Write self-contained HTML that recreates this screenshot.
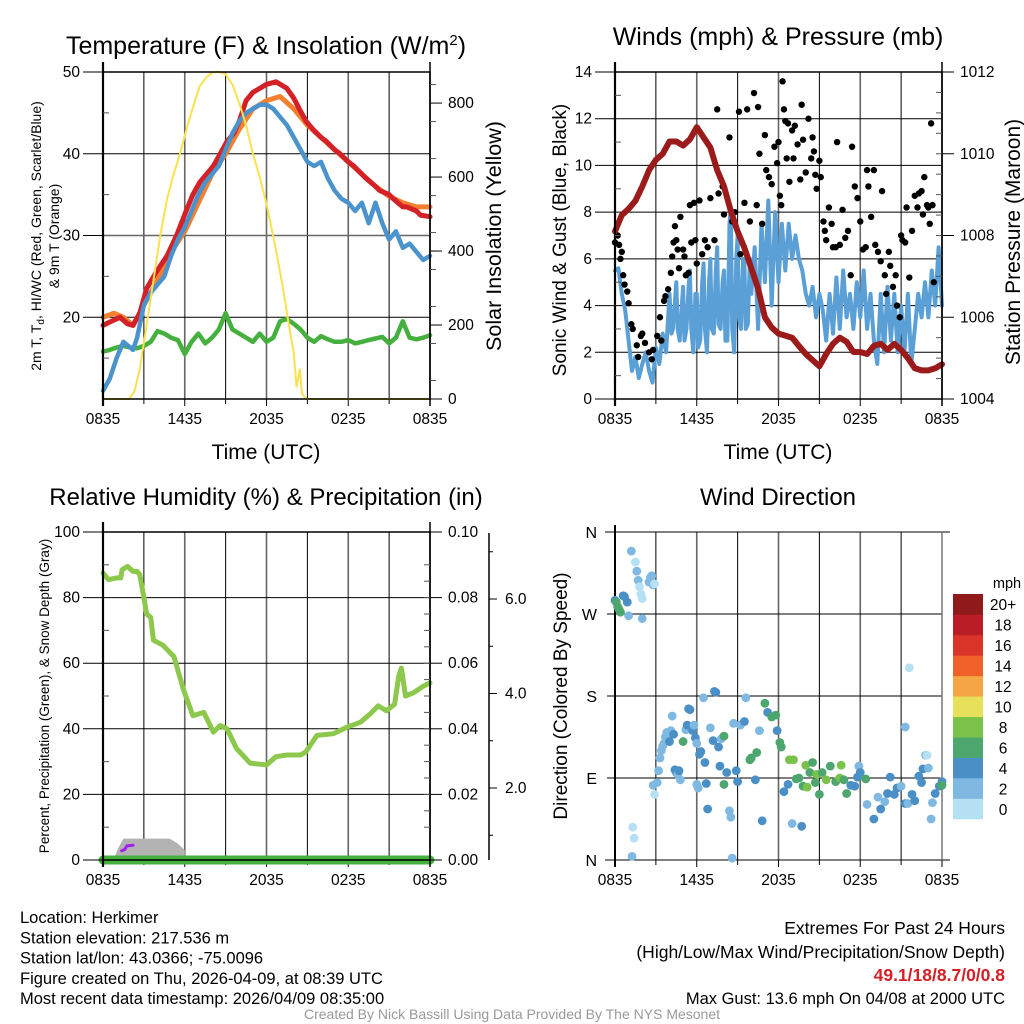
<!DOCTYPE html>
<html><head><meta charset="utf-8"><style>
html,body{margin:0;padding:0;background:#fff;width:1024px;height:1024px;overflow:hidden}
svg{display:block;font-family:"Liberation Sans",sans-serif}
</style></head><body>
<svg id="c" width="1024" height="1024" viewBox="0 0 1024 1024" xmlns="http://www.w3.org/2000/svg"></svg>
<script>
// ---- data ----
const tickHours=[0,6,12,18,24];
const tickLabels=["0835","1435","2035","0235","0835"];
const tempRed=[[0,19],[0.6,19.5],[1.25,20],[1.8,19.2],[2.2,19],[2.7,20.5],[3.2,23.5],[3.9,25.5],[4.7,27.5],[5.4,30],[6.1,33],[6.6,35],[7.1,36.5],[7.6,37.5],[8.1,38.5],[8.6,40],[9.1,41.5],[9.6,42.5],[10,44],[10.5,46.5],[11,47.5],[11.5,48],[12,48.5],[12.7,48.8],[13.5,48],[14,46.8],[14.4,45.5],[14.9,44],[15.4,43],[16,42],[16.4,41.5],[17,40.5],[17.4,40],[18,39],[18.4,38.5],[19,37.5],[19.3,37],[20,36],[20.3,35.5],[21,35],[21.3,34.5],[22,33.5],[22.3,33.5],[23,33],[23.3,32.5],[24,32.3]];
const tempOrange=[[0,20],[0.8,20.5],[1.5,20],[2.2,19],[3,21.5],[4,24.5],[5,28],[6,30.5],[7,34],[8,37.5],[9,40],[10,43],[11,45.5],[12,46.5],[13,47],[14,45.5],[15,43.5],[16,42],[17,40.5],[18,39],[19,37.5],[20,36],[21,34.8],[22,34],[23,33.5],[24,33.5]];
const tempBlue=[[0,11],[0.5,12.5],[1,15],[1.5,17],[2.2,16],[2.5,17.5],[3,21.5],[3.5,23],[4,24],[4.5,25],[5,27.5],[5.5,29.5],[6,31],[6.5,33],[7,35],[7.5,36.5],[8,37.5],[8.5,38.5],[9,40.5],[9.5,42.5],[10,44],[10.5,45],[11,45.5],[11.5,46],[12,46],[12.5,45.5],[13,44.5],[13.5,43.5],[14,42],[14.5,40.5],[15,39],[15.5,38.5],[16,39],[16.5,37],[17,35.5],[17.5,34.5],[18,34],[18.5,33],[19,34],[19.5,31.5],[20,34],[20.5,31.5],[21,29.5],[21.5,30.5],[22,28.5],[22.5,29],[23,28],[23.5,27],[24,27.5]];
const dewGreen=[[0,15.8],[0.5,16],[1,16.3],[1.5,16.5],[2,16.3],[2.5,16.2],[3,16.5],[3.5,17],[4,18.3],[4.5,18],[5,17.5],[5.5,17.2],[6,15.5],[6.5,17],[7,18],[7.5,16.8],[8,17.5],[8.5,18.5],[9,20.5],[9.5,18.5],[10,18],[10.5,17.5],[11,17],[11.5,18],[12,17],[12.5,17.5],[13,19.5],[13.5,19.8],[14,19.2],[14.5,18.5],[15,17.5],[15.5,17],[16,17.7],[16.5,17.3],[17,17],[17.5,17],[18,17.2],[18.5,16.8],[19,17],[19.5,17.2],[20,17.4],[20.5,17.6],[21,16.8],[21.5,17.5],[22,19.5],[22.5,17.5],[23,17.3],[23.5,17.5],[24,17.8]];
const insolation=[[0,0],[1.9,0],[2.3,20],[2.7,80],[3.2,200],[3.7,320],[4.2,440],[4.7,540],[5.2,610],[5.65,663],[6.2,740],[6.7,800],[7.1,846],[7.6,870],[8,882],[8.46,885],[9,878],[9.5,850],[10,800],[10.5,740],[11,663],[11.5,600],[12,528],[12.6,420],[13.2,303],[13.6,210],[14,123],[14.2,33],[14.45,80],[14.6,15],[14.9,0],[24,0]];
const pressure=[[0,1008.1],[0.5,1008.5],[1,1008.65],[1.5,1008.85],[2,1009.2],[2.5,1009.6],[3,1009.85],[3.5,1010.0],[4,1010.3],[4.5,1010.3],[5,1010.2],[5.5,1010.35],[6,1010.65],[6.5,1010.4],[7,1010.15],[7.5,1009.6],[8,1009.2],[8.5,1008.6],[9,1008.1],[9.5,1007.7],[10,1007.2],[10.5,1006.7],[11,1006.0],[11.5,1005.75],[12,1005.6],[12.5,1005.55],[13,1005.5],[13.5,1005.3],[14,1005.1],[14.5,1004.95],[15,1004.8],[15.5,1005.1],[16,1005.35],[16.5,1005.5],[17,1005.4],[17.5,1005.15],[18,1005.15],[18.5,1005.1],[19,1005.3],[19.5,1005.35],[20,1005.2],[20.5,1005.35],[21,1005.2],[21.5,1005.0],[22,1004.75],[22.5,1004.7],[23,1004.7],[23.5,1004.75],[24,1004.85]];
const windSpeed=[[0,5.5],[0.25,5.6],[0.5,4.5],[0.75,3.8],[1,2.5],[1.25,1.2],[1.5,1.8],[1.75,0.9],[2,1.5],[2.25,2],[2.5,1.2],[2.75,0.7],[3,2.2],[3.25,1.5],[3.5,2.8],[3.75,2],[4,4.5],[4.15,2.8],[4.25,3],[4.4,4.2],[4.5,5],[4.6,3],[4.75,2.5],[4.9,4],[5,4.8],[5.1,2.5],[5.25,3],[5.4,4.8],[5.5,5.5],[5.6,3],[5.75,2],[5.9,4.5],[6,4.5],[6.1,2.2],[6.25,2.5],[6.4,5],[6.5,5.8],[6.6,3],[6.75,2],[6.9,5],[7,6],[7.1,3],[7.25,2.8],[7.4,5.5],[7.5,6.5],[7.6,3.2],[7.75,3],[7.9,5],[8,5.5],[8.1,2.5],[8.25,2.5],[8.4,7.5],[8.5,8.2],[8.6,3],[8.75,2],[8.9,6],[9,7],[9.1,3.5],[9.25,3],[9.4,6],[9.5,5.8],[9.6,3],[9.75,3.2],[9.9,6],[10,4.5],[10.25,6.5],[10.5,3],[10.75,7.5],[11,5],[11.25,8.5],[11.5,4],[11.75,8],[12,5],[12.25,7.5],[12.5,5.5],[12.75,7.5],[13,6],[13.25,7],[13.5,6],[13.75,5.5],[14,4.5],[14.25,4],[14.5,4.8],[14.75,3.5],[15,4.5],[15.25,3.8],[15.5,2.5],[15.75,4.5],[16,2.8],[16.25,5.2],[16.5,3],[16.75,5.5],[17,3.5],[17.25,4.5],[17.5,3],[17.75,5],[18,3.5],[18.25,5.5],[18.5,3],[18.75,4.5],[19,2.5],[19.25,1.5],[19.5,4.5],[19.75,2],[20,4.8],[20.25,2.5],[20.5,4.5],[20.75,2],[21,4],[21.25,2],[21.5,4.5],[21.75,1.5],[22,3],[22.25,4.5],[22.5,3.5],[22.75,5],[23,3.5],[23.25,5.5],[23.5,4],[23.75,6.5],[24,4]];
const gusts=[[0,6.7],[0.2,7],[0.3,6.6],[0.4,6],[0.5,6.3],[0.6,5.3],[0.7,4.9],[0.9,4.6],[1,4.1],[1.2,3.2],[1.3,3],[1.6,2.3],[1.7,1.8],[1.9,2.7],[2,2.8],[2.2,2.4],[2.5,2],[2.7,1.7],[2.8,2.1],[3.1,2.7],[3.3,3.5],[3.4,2.5],[3.6,4.2],[3.7,4.4],[3.9,4.7],[4.1,5.4],[4.2,6.1],[4.3,6.7],[4.4,7.4],[4.5,6.8],[4.6,6.4],[4.7,5.6],[4.8,7.8],[5,6.4],[5.1,6.1],[5.2,5.3],[5.4,5.4],[5.5,8.3],[5.6,6.7],[5.8,8.4],[5.9,6.8],[6,5.8],[6.2,8.5],[6.4,6.2],[6.6,6.8],[6.8,6.5],[7,8.6],[7.3,6.8],[7.5,12.4],[7.6,8.8],[7.9,9.1],[8,7.9],[8.4,11.2],[8.6,7.6],[8.8,8],[9.1,12.3],[9.2,6.2],[9.5,8.4],[9.7,12.4],[9.9,7.6],[10.2,13.1],[10.4,8.3],[10.5,12.5],[10.6,10.5],[10.8,7.5],[11,11.3],[11.1,9.8],[11.3,9.5],[11.5,9.2],[11.7,10.8],[11.9,10.1],[12,11],[12.1,8.7],[12.2,8.3],[12.3,13.6],[12.4,12.4],[12.5,11.9],[12.6,10.3],[12.7,11.8],[12.8,9.3],[13,11.5],[13.1,10.3],[13.2,11.7],[13.4,10.9],[13.6,9.4],[13.7,12.6],[13.8,11.1],[14,9.7],[14.2,12],[14.4,10.3],[14.5,11.2],[14.6,10.6],[14.7,9.6],[14.8,9],[15,10.2],[15.1,9.5],[15.3,7.6],[15.4,7.2],[15.5,6.8],[15.7,8.2],[15.9,7.5],[16,6.5],[16.2,6.5],[16.3,11],[16.5,6.6],[16.7,8.1],[16.9,6.9],[17.1,7.2],[17.3,5.3],[17.4,10.8],[17.6,9.1],[17.8,8.6],[18,7.6],[18.2,6.4],[18.4,6.5],[18.5,9.8],[18.6,9.1],[18.8,7.8],[19,9.8],[19.1,6.6],[19.3,6.3],[19.5,5.9],[19.6,8.9],[19.8,5.3],[19.9,4.5],[20.1,6.3],[20.2,5.7],[20.4,4.8],[20.6,5.3],[20.7,4],[20.9,3.5],[21,7],[21.1,6.8],[21.3,6.7],[21.4,8.2],[21.6,5.2],[21.8,7.2],[22,8.7],[22.2,8.2],[22.3,8.8],[22.5,8.9],[22.6,7.9],[22.7,9.5],[22.9,8.3],[23,8.2],[23.1,7.5],[23.2,11.8],[23.3,8.3],[23.4,5]];
const relHumidity=[[0,87.5],[0.4,85.5],[1,86],[1.3,86],[1.4,88.5],[1.8,89.5],[2.2,88],[2.5,88],[2.7,87],[3.0,80],[3.2,75],[3.5,74],[3.7,67],[4.4,65.5],[5.2,62],[5.9,52],[6.6,44],[7.4,45],[8.1,39],[8.6,41],[9.1,40],[9.8,34],[10.8,29.5],[12,29],[12.7,31.5],[13.5,32],[14.5,32],[14.9,33],[15.7,38],[16.9,38.5],[17.9,40.5],[18.9,42],[19.6,44.5],[20.2,47],[20.8,45.5],[21.4,47.5],[21.7,56],[21.9,58.5],[22.2,50],[22.8,51],[23.5,53],[24,54]];
const precip=[[0,0],[24,0]];
const snowDepth=[[0.76,0],[1.1,3.5],[1.5,6.5],[4.9,6.5],[5.5,5],[6,3],[6,0]];
const precipRate=[[1.37,2.8],[1.6,3.2],[1.75,4.3],[2.2,4.5]];
const windDir=[[0,285,4],[0.1,283,6],[0.2,278,6],[0.3,275,6],[0.4,272,6],[0.6,290,4],[0.7,289,4],[0.9,283,4],[1,268,2],[1.2,339,2],[1.5,327,0],[1.6,317,2],[1.7,307,2],[1.8,300,0],[1.9,292,0],[2,287,0],[2,265,2],[2.5,305,2],[2.6,310,2],[2.7,312,2],[2.8,302,2],[2.9,303,0],[1.3,36,0],[1.4,24,0],[1.25,4,2],[2.8,82,2],[2.9,72,0],[3.1,85,2],[3.2,98,2],[3.3,112,2],[3.4,120,2],[3.5,125,2],[3.6,128,2],[3.7,135,2],[3.8,140,2],[3.9,138,2],[4,130,4],[4.1,142,2],[4.2,158,2],[4.3,138,4],[4.4,99,4],[4.5,96,4],[4.6,94,2],[4.7,98,4],[4.8,88,2],[5,130,6],[5.2,143,2],[5.3,148,4],[5.4,166,4],[5.5,165,4],[5.7,142,4],[5.8,148,2],[5.9,134,4],[6,128,2],[6,83,2],[6.1,79,2],[6.2,116,4],[6.3,119,4],[6.5,178,2],[6.6,107,4],[6.7,84,4],[6.8,56,4],[7,145,2],[7.2,131,4],[7.3,185,4],[7.4,184,4],[7.6,124,4],[7.7,103,4],[7.8,133,2],[8,136,6],[8,83,6],[8.2,96,4],[8.4,54,2],[8.5,47,2],[8.6,2,2],[8.7,150,2],[8.9,98,4],[9,86,4],[9.2,148,2],[9.5,152,4],[9.6,178,2],[9.9,110,6],[10,112,6],[10.3,88,4],[10.4,118,6],[10.6,142,2],[10.8,43,4],[11,172,6],[11.2,162,4],[11.5,157,6],[11.8,159,6],[11.9,142,4],[12.1,129,6],[12.2,124,6],[12.4,75,4],[12.7,83,4],[12.8,110,8],[13,40,2],[13.1,110,8],[13.3,89,6],[13.5,90,6],[13.7,37,4],[13.8,81,6],[14.1,80,8],[14.3,96,6],[14,104,8],[14.5,107,6],[14.8,94,8],[14.7,85,6],[15,72,6],[15.2,96,6],[15.5,88,8],[15.8,103,6],[16.2,86,6],[16.5,90,8],[16.6,104,8],[16.8,88,6],[17,73,6],[17.3,82,4],[17.6,81,4],[17.8,91,4],[17.9,103,2],[18,96,4],[18.4,89,6],[18.5,61,2],[19,45,4],[19.3,69,2],[19.5,56,4],[19.8,64,2],[20,73,4],[20.2,91,4],[20.5,72,4],[20.7,79,4],[21,81,2],[21.3,62,4],[21.5,62,2],[21.8,72,4],[22,65,4],[22.3,92,4],[22.5,85,4],[22.6,100,4],[22.8,115,2],[23,101,2],[22.9,115,0],[23.2,45,2],[23.3,63,2],[23.5,73,4],[23.8,81,4],[24,86,4],[24,82,6],[21.6,211,0],[21.3,146,2]];
const speedColors=["#b6e0f4","#7fb9e2","#4a8fc6","#4ca66d","#7bc24a","#e6e05a","#f5a544","#ef6128","#da3328","#bb1d26","#8f1a1a"];
const speedLabels=["0","2","4","6","8","10","12","14","16","18","20+"];

// ---- helpers ----
const NS="http://www.w3.org/2000/svg";
const svg=document.getElementById('c');
function mk(tag,attrs,parent){const e=document.createElementNS(NS,tag);for(const k in attrs)e.setAttribute(k,attrs[k]);(parent||svg).appendChild(e);return e;}
function txt(x,y,s,size,anchor,extra){const t=mk('text',Object.assign({x:x,y:y,'font-size':size,'text-anchor':anchor||'middle',fill:'#000'},extra||{}));t.textContent=s;return t;}
function scale(d0,d1,r0,r1){return v=>r0+(v-d0)/(d1-d0)*(r1-r0);}
function line(pts,sx,sy,color,w,name){const p=mk('polyline',{points:pts.map(d=>sx(d[0]).toFixed(1)+','+sy(d[1]).toFixed(1)).join(' '),fill:'none',stroke:color,'stroke-width':w,'stroke-linejoin':'round','stroke-linecap':'round'});


return p;}
function frame(X0,X1,Y0,Y1,sx,name){
 const g=mk('g',{});
 
 
 for(let h=3;h<24;h+=3){mk('line',{x1:sx(h),x2:sx(h),y1:Y0,y2:Y1,stroke:(h%6==0)?'#666':'#000','stroke-width':(h%6==0)?1.6:1},g);}
 tickHours.forEach((h,i)=>{mk('line',{x1:sx(h),x2:sx(h),y1:Y1,y2:Y1+7,stroke:'#000','stroke-width':1},g);
  const t=txt(sx(h),Y1+25,tickLabels[i],15.5);});
 for(let h=3;h<24;h+=6)mk('line',{x1:sx(h),x2:sx(h),y1:Y1,y2:Y1+5,stroke:'#000'},g);
 return g;}
function box(X0,X1,Y0,Y1){mk('rect',{x:X0,y:Y0,width:X1-X0,height:Y1-Y0,fill:'none',stroke:'#000','stroke-width':1.5});
 mk('line',{x1:X0,x2:X0,y1:Y0-10,y2:Y1+7,stroke:'#000','stroke-width':2.2});mk('line',{x1:X1,x2:X1,y1:Y0-10,y2:Y1+7,stroke:'#000','stroke-width':1.5});}
function yTicks(vals,sy,X,side,lbl,size){vals.forEach(v=>{const y=sy(v);mk('line',{x1:X,x2:X+(side<0?-20:12),y1:y,y2:y,stroke:'#000'});
 if(lbl){const t=txt(X+(side<0?-23:18),y+5,lbl(v),size||15.5,side<0?'end':'start');}});}
function minor(vals,sy,X,side){vals.forEach(v=>mk('line',{x1:X,x2:X+side*6,y1:sy(v),y2:sy(v),stroke:'#555'}));}
function rot(x,y,s,size,name){const t=txt(x,y,s,size,'middle',{transform:`rotate(-90 ${x} ${y})`});return t;}
function range(a,b,s){const r=[];for(let v=a;v<=b+1e-9;v+=s)r.push(+v.toFixed(4));return r;}

// ---- Panel 1 ----
{const X0=103,X1=430,Y0=72,Y1=399;const sx=scale(0,24,X0,X1);const sy=scale(10,50,Y1,Y0);const si=scale(0,884,Y1,Y0);
 frame(X0,X1,Y0,Y1,sx,'temp-grid');
 [20,30,40].forEach(v=>mk('line',{x1:X0,x2:X1,y1:sy(v),y2:sy(v),stroke:v==30?'#666':'#000','stroke-width':v==30?1.5:1}));
 line(dewGreen,sx,sy,'#45b03e',4.5,'dewpoint-line');
 line(tempOrange,sx,sy,'#f47f2e',5,'temp-9m-line');
 line(tempRed,sx,sy,'#d42027',5,'temp-2m-line');
 line(tempBlue,sx,sy,'#4b93cc',4.5,'windchill-line');
 line(insolation,sx,si,'#fbe14e',2,'insolation-line');
 box(X0,X1,Y0,Y1);
 yTicks([20,30,40,50],sy,X0,-1,v=>v);
 yTicks([0,200,400,600,800],si,X1,1,v=>v);
 minor(range(50,850,100),si,X1,1);minor([15,25,35,45],sy,X0,1);
 const t=txt(266,54,'',25);t.innerHTML='Temperature (F) &amp; Insolation (W/m<tspan dy="-9" font-size="15">2</tspan><tspan dy="9">)</tspan>';
 const xt=txt(266,459,'Time (UTC)',21);
 const yl=txt(41,236,'',14,'middle',{transform:'rotate(-90 41 236)'});yl.innerHTML='2m T, T<tspan dy="3" font-size="10">d</tspan><tspan dy="-3">, HI/WC (Red, Green, Scarlet/Blue)</tspan>';
 rot(59,236,'& 9m T (Orange)',14,'temp-y-axis-title-2');
 rot(501,236,'Solar Insolation (Yellow)',21.5,'insolation-axis-title');}

// ---- Panel 2 ----
{const X0=615,X1=942,Y0=72,Y1=399;const sx=scale(0,24,X0,X1);const sy=scale(0,14,Y1,Y0);const sp=scale(1004,1012,Y1,Y0);
 frame(X0,X1,Y0,Y1,sx,'wind-grid');
 range(2,12,2).forEach(v=>mk('line',{x1:X0,x2:X1,y1:sy(v),y2:sy(v),stroke:'#000','stroke-width':1}));
 line(windSpeed,sx,sy,'#5a9fd6',4,'wind-speed-line');
 gusts.forEach(d=>{const c=mk('circle',{cx:sx(d[0]),cy:sy(d[1]),r:3.2,fill:'#000'});
  
  });
 line(pressure,sx,sp,'#9b1b1b',6,'pressure-line');
 box(X0,X1,Y0,Y1);
 yTicks(range(0,14,2),sy,X0,-1,v=>v);
 yTicks(range(1004,1012,2),sp,X1,1,v=>v);
 minor(range(1,13,2),sy,X0,1);minor(range(1004.5,1011.5,0.5),sp,X1,-1);
 const t=txt(778,45,'Winds (mph) & Pressure (mb)',25);
 const xt=txt(778,459,'Time (UTC)',21);
 rot(566,240,'Sonic Wind & Gust (Blue, Black)',19,'wind-y-axis-title');
 rot(1020,242,'Station Pressure (Maroon)',21,'pressure-axis-title');}

// ---- Panel 3 ----
{const X0=103,X1=430,Y0=532,Y1=860;const sx=scale(0,24,X0,X1);const sy=scale(0,100,Y1,Y0);const sp=scale(0,0.1,Y1,Y0);const ss=scale(0,2,882.5,788);
 frame(X0,X1,Y0,Y1,sx,'rh-grid');
 range(20,80,20).forEach(v=>mk('line',{x1:X0,x2:X1,y1:sy(v),y2:sy(v),stroke:'#000'}));
 const poly=mk('polygon',{points:snowDepth.map(d=>sx(d[0])+','+sy(d[1])).join(' '),fill:'#b3b3b3'});
 
 
 line(precipRate,sx,sy,'#a020f0',3,'precip-rate-line');
 line(precip,sx,sp,'#45b03e',9,'precip-line');
 line(relHumidity,sx,sy,'#8cc84b',5,'rh-line');
 box(X0,X1,Y0,Y1);
 yTicks(range(0,100,20),sy,X0,-1,v=>v);
 yTicks(range(0,0.1,0.02),sp,X1,1,v=>v.toFixed(2));
 minor(range(10,90,20),sy,X0,1);minor(range(0.01,0.09,0.005),sp,X1,-1);
 mk('line',{x1:489,x2:489,y1:Y0+1,y2:Y1,stroke:'#000','stroke-width':1.5});
 [2,4,6].forEach(v=>{mk('line',{x1:489,x2:497,y1:ss(v),y2:ss(v),stroke:'#000'});const t=txt(505,ss(v)+5,v.toFixed(1),15.5,'start');});
 [1,3,5,7].forEach(v=>mk('line',{x1:489,x2:493,y1:ss(v),y2:ss(v),stroke:'#000'}));
 const t=txt(266,505,'Relative Humidity (%) & Precipitation (in)',24);
 rot(49,696,'Percent, Precipitation (Green), & Snow Depth (Gray)',13.5,'rh-y-axis-title');}

// ---- Panel 4 ----
{const X0=615,X1=942,Y0=532,Y1=860;const sx=scale(0,24,X0,X1);const sy=scale(0,360,Y1,Y0);
 frame(X0,X1,Y0,Y1,sx,'direction-grid');
 [90,180,270].forEach(v=>mk('line',{x1:X0,x2:X1,y1:sy(v),y2:sy(v),stroke:'#000'}));
 mk('line',{x1:X0-10,x2:X1+8,y1:Y0,y2:Y0,stroke:'#000'});mk('line',{x1:X0-10,x2:X1+8,y1:Y1,y2:Y1,stroke:'#000'});
 mk('line',{x1:X0,x2:X0,y1:Y0-7,y2:Y1+7,stroke:'#000','stroke-width':2});mk('line',{x1:X1,x2:X1,y1:Y0,y2:Y1,stroke:'#777','stroke-width':1.5});
 [[0,'N'],[90,'E'],[180,'S'],[270,'W'],[360,'N']].forEach(d=>{mk('line',{x1:X0-8,x2:X0,y1:sy(d[0]),y2:sy(d[0]),stroke:'#000'});const t=txt(X0-18,sy(d[0])+6,d[1],16,'end');});
 windDir.forEach(d=>{const c=mk('circle',{cx:sx(d[0]),cy:sy(d[1]),r:4.4,fill:speedColors[Math.min(10,Math.floor(d[2]/2))]});
  
  });
 const t=txt(778,505,'Wind Direction',24);
 rot(567,696,'Direction (Colored By Speed)',19,'direction-y-axis-title');
 const lg=mk('g',{});
 const h=225/11;
 speedColors.forEach((c,i)=>{const y=819-(i+1)*h;mk('rect',{x:953,y:y,width:30,height:h+0.3,fill:c},lg);const t=txt(1003,y+h/2+6,speedLabels[i],15.5,'middle');});
 const m=txt(1007,588,'mph',14.5);}

// ---- footer text ----
const leftLines=["Location: Herkimer","Station elevation: 217.536 m","Station lat/lon: 43.0366; -75.0096","Figure created on Thu, 2026-04-09, at 08:39 UTC","Most recent data timestamp: 2026/04/09 08:35:00"];
leftLines.forEach((s,i)=>{const t=txt(20,923+i*20.3,s,16.5,'start',{textLength:0});t.removeAttribute('textLength');});
const r1=txt(1005,934,'Extremes For Past 24 Hours',17.5,'end');
const r2=txt(1005,958,'(High/Low/Max Wind/Precipitation/Snow Depth)',17.5,'end');
const r3=txt(1005,981,'49.1/18/8.7/0/0.8',17.5,'end',{fill:'#d42027','font-weight':'bold'});
const r4=txt(1005,1004,'Max Gust: 13.6 mph On 04/08 at 2000 UTC',16.5,'end');
const cr=txt(512,1019,'Created By Nick Bassill Using Data Provided By The NYS Mesonet',14,'middle',{fill:'#999'});
</script>
</body></html>
